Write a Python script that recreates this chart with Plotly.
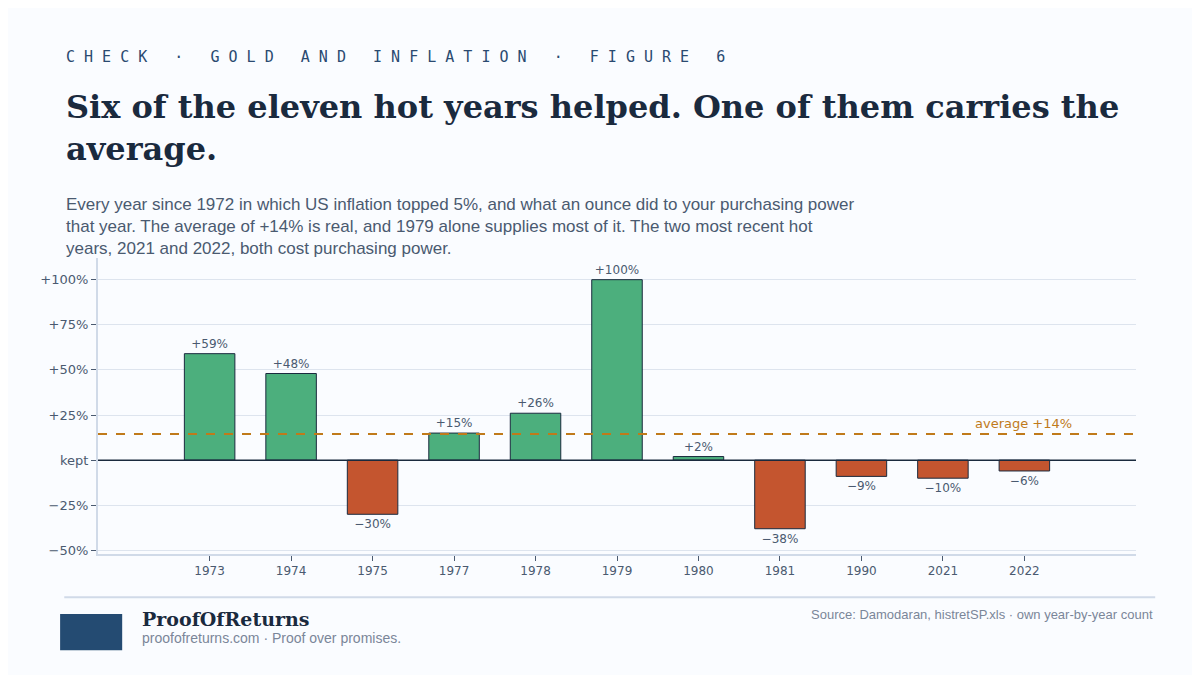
import plotly.graph_objects as go

years = ["1973", "1974", "1975", "1977", "1978", "1979", "1980", "1981", "1990", "2021", "2022"]
change = [59, 48, -30, 15, 26, 100, 2, -38, -9, -10, -6]
labels = ["+59%", "+48%", "\u221230%", "+15%", "+26%", "+100%", "+2%", "\u221238%", "\u22129%", "\u221210%", "\u22126%"]
average = 14.5
ytick_vals = [-50, -25, 0, 25, 50, 75, 100]
ytick_text = ["\u221250%", "\u221225%", "kept", "+25%", "+50%", "+75%", "+100%"]

GREEN = "#4caf7d"
RED = "#c4552f"
INK = "#1a2a3e"
MUTED = "#4a5a70"
BG = "#fafcff"

xs = list(range(len(years)))
colors = [GREEN if v >= 0 else RED for v in change]

fig = go.Figure()
fig.add_trace(go.Bar(
    x=xs, y=change, width=0.62, marker=dict(color=colors, line=dict(color=INK, width=1)),
    text=labels, textposition="outside", cliponaxis=False,
    textfont=dict(family="DejaVu Sans", size=12, color=MUTED), hoverinfo="skip"))

fig.add_shape(type="line", xref="paper", x0=0, x1=1, y0=0, y1=0, line=dict(color=INK, width=1.5))
fig.add_shape(type="line", xref="paper", x0=0, x1=1, y0=average, y1=average,
              line=dict(color="#c07a1a", width=1.8, dash="dash"))
fig.add_annotation(x=1 - 0.06, xref="paper", y=average, yanchor="bottom", xanchor="right",
                   text="average +14%", showarrow=False, yshift=1,
                   font=dict(family="DejaVu Sans", size=13, color="#c07a1a"))

fig.update_layout(
    width=1200, height=675, paper_bgcolor=BG, plot_bgcolor=BG,
    margin=dict(l=90, r=72, t=250, b=129),
    showlegend=False,
    xaxis=dict(range=[-1.37, 11.37], tickvals=xs, ticktext=years, showgrid=False,
               ticks="outside", ticklen=5, tickcolor=MUTED, showline=True, linecolor="#d0dae8", linewidth=2,
               tickfont=dict(family="DejaVu Sans", size=12, color=MUTED), zeroline=False),
    yaxis=dict(range=[-52, 112], tickvals=ytick_vals, ticktext=ytick_text, gridcolor="#dde4ee",
               ticks="outside", ticklen=5, tickcolor=MUTED, showline=True, linecolor="#d0dae8", linewidth=2,
               tickfont=dict(family="DejaVu Sans", size=13, color=MUTED), zeroline=False),
)

fig.add_annotation(xref="paper", yref="paper", x=-0.0325, y=1.0, xanchor="left", yanchor="bottom",
                   yshift=190, showarrow=False,
                   text="C H E C K   \u00b7   G O L D   A N D   I N F L A T I O N   \u00b7   F I G U R E   6",
                   font=dict(family="DejaVu Sans Mono", size=15, color="#2a4a70"))
fig.add_annotation(xref="paper", yref="paper", x=-0.0325, y=1.0, xanchor="left", yanchor="bottom",
                   yshift=88, showarrow=False, align="left",
                   text="<b>Six of the eleven hot years helped. One of them carries the<br>average.</b>",
                   font=dict(family="DejaVu Serif", size=32, color=INK))
fig.add_annotation(xref="paper", yref="paper", x=-0.0325, y=1.0, xanchor="left", yanchor="bottom",
                   yshift=-2, showarrow=False, align="left",
                   text="Every year since 1972 in which US inflation topped 5%, and what an ounce did to your purchasing power<br>that year. The average of +14% is real, and 1979 alone supplies most of it. The two most recent hot<br>years, 2021 and 2022, both cost purchasing power.",
                   font=dict(family="Liberation Sans", size=17, color=MUTED))

# footer
fig.add_shape(type="line", xref="paper", yref="paper", x0=-0.0325, x1=1.0185, y0=-0.146, y1=-0.146,
              line=dict(color="#d0dae8", width=2))
fig.add_shape(type="rect", xref="paper", yref="paper", x0=-0.0365, x1=0.0233, y0=-0.325, y1=-0.203,
              fillcolor="#244b72", line=dict(width=0), layer="above")
fig.add_annotation(xref="paper", yref="paper", x=0.04, y=-0.22, xanchor="left", yanchor="middle",
                   showarrow=False, text="<b>ProofOfReturns</b>",
                   font=dict(family="DejaVu Serif", size=19, color=INK))
fig.add_annotation(xref="paper", yref="paper", x=0.04, y=-0.285, xanchor="left", yanchor="middle",
                   showarrow=False, text="proofofreturns.com \u00b7 Proof over promises.",
                   font=dict(family="Liberation Sans", size=14, color="#7a8699"))
fig.add_annotation(xref="paper", yref="paper", x=1.0185, y=-0.203, xanchor="right", yanchor="middle",
                   showarrow=False, text="Source: Damodaran, histretSP.xls \u00b7 own year-by-year count",
                   font=dict(family="Liberation Sans", size=13, color="#7a8699"))

fig.write_html("out.html")
